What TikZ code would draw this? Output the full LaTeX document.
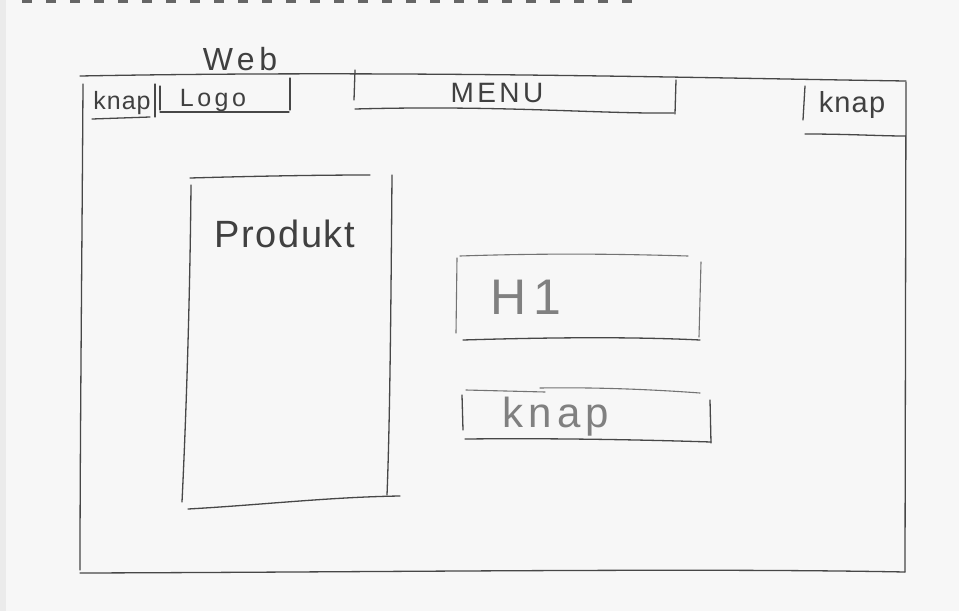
\documentclass[tikz,border=0pt]{standalone}
\usepackage{fontspec}
\setmainfont{Liberation Sans}
\begin{document}
\begin{tikzpicture}[x=1pt,y=-1pt,
  pen/.style={draw=black!72,line width=1.3pt,line cap=round},
  lightpen/.style={draw=black!55,line width=1.1pt,line cap=round},
  hand/.style={text=black!75,inner sep=0pt,anchor=center},
  pale/.style={text=black!50,inner sep=0pt,anchor=center}]
\useasboundingbox (0,0) rectangle (959,611);
\fill[black!8] (0,0) rectangle (959,611);
\fill[black!3] (6,0) rectangle (959,611);
% perforation
\draw[black!60,line width=2.5pt,dash pattern=on 10pt off 14pt] (22,1.5) -- (640,1.5);
% outer frame
\draw[pen] (80,76) .. controls (400,70) and (700,78) .. (906,81);
\draw[pen] (83,84) .. controls (82,250) and (80,450) .. (80,570);
\draw[pen] (906,82) -- (905,572);
\draw[pen] (80,573) .. controls (400,572) and (700,568) .. (905,572);
% top-left knap
\node[hand,font=\addfontfeature{LetterSpace=4}\fontsize{25}{27}\selectfont] (knapL) at (122,103) {knap};
\draw[pen] (155,84) -- (155,117);
\draw[pen] (92,119) -- (150,117);
% logo
\node[hand,font=\addfontfeature{LetterSpace=14}\fontsize{25}{27}\selectfont] (logo) at (213,100) {Logo};
\draw[pen] (160,86) -- (160,110);
\draw[pen] (160,112) -- (289,112);
\draw[pen] (290,78) -- (290,110);
\node[hand,font=\addfontfeature{LetterSpace=14}\fontsize{32}{34}\selectfont] (web) at (240,59) {Web};
% menu
\node[hand,font=\addfontfeature{LetterSpace=12}\fontsize{28}{30}\selectfont] (menu) at (497,93) {MENU};
\draw[pen] (355,70) -- (354,100);
\draw[pen] (355,109) .. controls (500,105) and (600,114) .. (674,113);
\draw[pen] (676,80) -- (675,114);
% top-right knap
\node[hand,font=\addfontfeature{LetterSpace=4}\fontsize{29}{31}\selectfont] (knapR) at (852,105) {knap};
\draw[pen] (805,86) -- (803,120);
\draw[pen] (805,134) .. controls (850,134) and (880,136) .. (905,136);
% produkt
\draw[pen] (190,178) .. controls (260,176) and (320,175) .. (370,175);
\draw[pen] (191,185) .. controls (190,300) and (186,420) .. (182,502);
\draw[pen] (392,175) .. controls (391,300) and (390,420) .. (387,495);
\draw[pen] (188,509) .. controls (260,505) and (330,497) .. (400,496);
\node[hand,font=\addfontfeature{LetterSpace=4}\fontsize{38}{40}\selectfont] (prod) at (285,234) {Produkt};
% H1
\draw[lightpen] (460,256) .. controls (550,253) and (620,254) .. (688,256);
\draw[lightpen] (457,258) -- (456,333);
\draw[lightpen] (701,262) -- (699,337);
\draw[pen] (463,340) .. controls (560,337) and (640,337) .. (700,340);
\node[pale,font=\addfontfeature{LetterSpace=15}\fontsize{50}{52}\selectfont] (h1) at (526,297) {H1};
% knap button
\draw[lightpen] (466,390) -- (545,392);
\draw[lightpen] (540,388) .. controls (600,387) and (660,390) .. (700,393);
\draw[pen] (462,395) -- (463,430);
\draw[pen] (710,400) -- (711,443);
\draw[pen] (465,439) .. controls (560,438) and (650,440) .. (711,442);
\node[pale,font=\addfontfeature{LetterSpace=12}\fontsize{42}{44}\selectfont] (knapB) at (556,417) {knap};
\end{tikzpicture}
\end{document}
